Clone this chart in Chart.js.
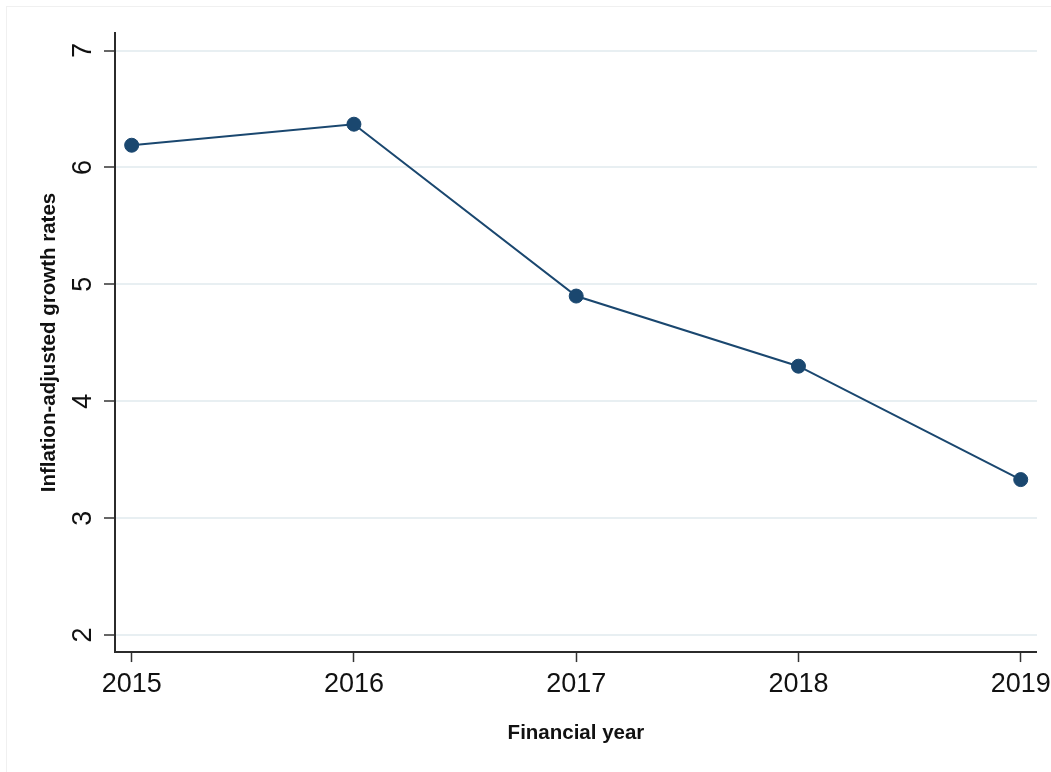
<!DOCTYPE html>
<html>
<head>
<meta charset="utf-8">
<script src="https://cdn.jsdelivr.net/npm/chart.js@4/dist/chart.umd.min.js"></script>
<style>
  html, body { margin: 0; padding: 0; background: #fff; }
  #wrap { width: 1051px; height: 772px; }
</style>
</head>
<body>
<div id="wrap"><canvas id="chart"></canvas></div>
<script>
const years = [2015, 2016, 2017, 2018, 2019];
const growthRates = [6.19, 6.37, 4.90, 4.30, 3.33];
const yTicks = [2, 3, 4, 5, 6, 7];

const NAVY = '#1a476f';
const FONT = "'Liberation Sans', Arial, sans-serif";

// Stata draws the y labels turned on their side, Chart.js doesn't do that for a y axis
const sideLabels = {
  id: 'sideLabels',
  beforeDraw(chart) {
    const ctx = chart.ctx;
    ctx.save();
    ctx.strokeStyle = '#f0f0f0';
    ctx.lineWidth = 1;
    ctx.strokeRect(6.5, 6.5, chart.width + 10, chart.height + 10);
    ctx.restore();
  },
  afterDraw(chart) {
    const ctx = chart.ctx;
    const y = chart.scales.y;
    ctx.save();
    ctx.fillStyle = '#111';
    ctx.font = '27px ' + FONT;
    ctx.textAlign = 'center';
    ctx.textBaseline = 'middle';
    yTicks.forEach(v => {
      ctx.save();
      ctx.translate(84, y.getPixelForValue(v));
      ctx.rotate(-Math.PI / 2);
      ctx.fillText(String(v), 0, 0);
      ctx.restore();
    });
    ctx.restore();
  }
};

const config = {
  type: 'line',
  data: {
    datasets: [{
      label: 'Inflation-adjusted growth rates',
      data: years.map((yr, i) => ({ x: yr, y: growthRates[i] })),
      borderColor: NAVY,
      backgroundColor: NAVY,
      borderWidth: 2,
      pointRadius: 7,
      pointBorderWidth: 1,
      pointBackgroundColor: NAVY,
      pointBorderColor: NAVY,
      tension: 0
    }]
  },
  options: {
    responsive: false,
    animation: false,
    layout: { padding: { left: 36.7, right: 14, top: 33, bottom: 26.7 } },
    plugins: {
      legend: { display: false },
      tooltip: { enabled: false }
    },
    scales: {
      x: {
        type: 'linear',
        min: 2014.925,
        max: 2019.073,
        afterBuildTicks: scale => { scale.ticks = years.map(v => ({ value: v })); },
        grid: {
          drawOnChartArea: false,
          drawTicks: true,
          tickLength: 10,
          tickWidth: 1.5,
          tickColor: '#333'
        },
        border: { display: true, color: '#2b2b2b', width: 2 },
        ticks: {
          padding: 0,
          color: '#111',
          font: { family: FONT, size: 27, lineHeight: 1.65 },
          callback: v => String(v)
        },
        title: {
          display: true,
          text: 'Financial year',
          color: '#111',
          font: { family: FONT, size: 20.5, weight: 'bold', lineHeight: 1.2 },
          padding: { top: 14.1, bottom: 0 }
        }
      },
      y: {
        min: 1.855,
        max: 7.15,
        afterBuildTicks: scale => { scale.ticks = yTicks.map(v => ({ value: v })); },
        grid: {
          color: '#e8eff2',
          lineWidth: 2,
          drawTicks: true,
          tickLength: 11,
          tickWidth: 1.5,
          tickColor: '#333'
        },
        border: { display: true, color: '#2b2b2b', width: 2 },
        ticks: { display: false },
        title: {
          display: true,
          text: 'Inflation-adjusted growth rates',
          color: '#111',
          font: { family: FONT, size: 20.5, weight: 'bold', lineHeight: 1.2 },
          padding: { top: 0, bottom: 42.7 }
        }
      }
    }
  },
  plugins: [sideLabels]
};

const canvas = document.getElementById('chart');
canvas.width = 1051;
canvas.height = 772;
const chart = new Chart(canvas, config);
</script>
</body>
</html>
